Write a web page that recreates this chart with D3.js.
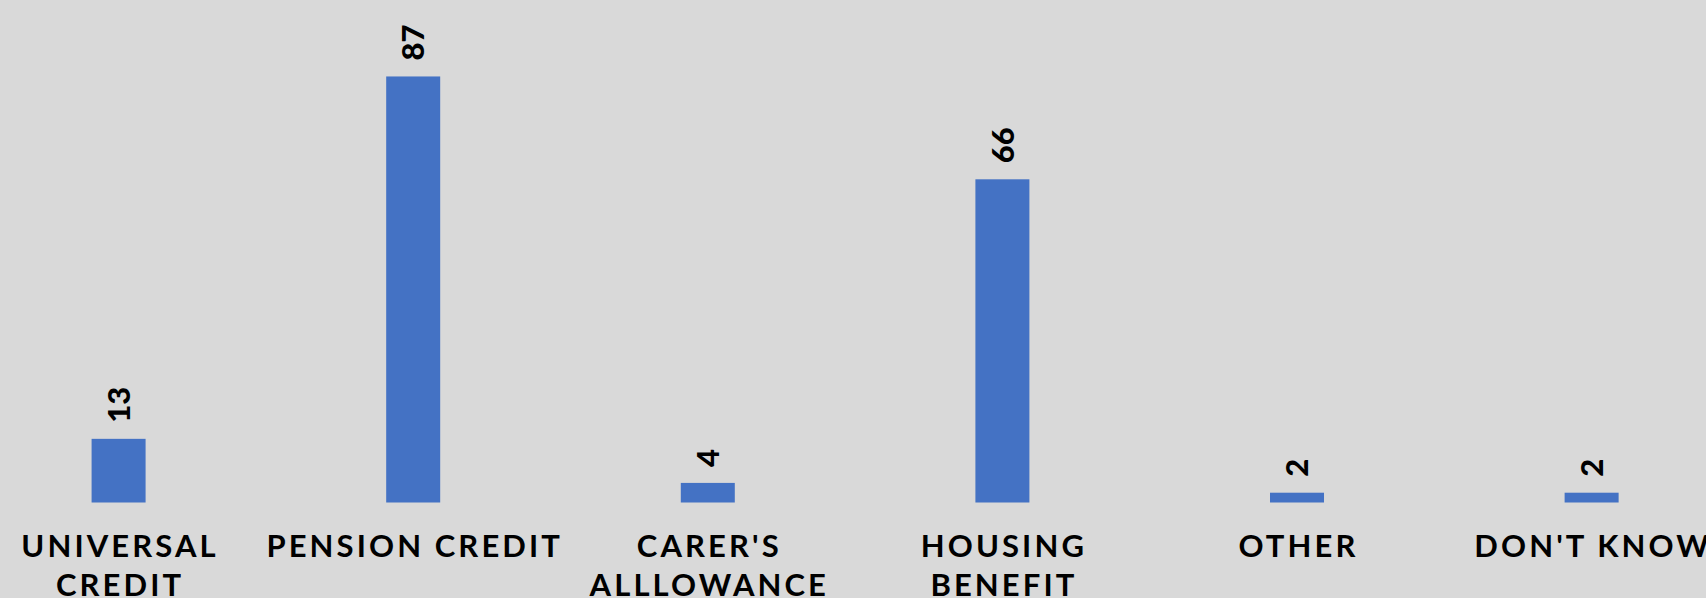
<html>

<head>
    <script src="https://d3js.org/d3.v7.min.js"></script>

    <style>
        body {
            margin: 0;
            background: #d9d9d9;
        }

        .bar {
            fill: #4472c4;
        }

        .value-label {
            font-family: "Century Gothic", Lato, sans-serif;
            font-weight: 900;
            font-size: 31px;
            fill: black;
        }

        .cat-label {
            font-family: "Century Gothic", Lato, sans-serif;
            font-weight: bold;
            font-size: 31px;
            letter-spacing: 3.1px;
            fill: black;
        }
    </style>
</head>

<body>
    <svg id="chart" height="598" width="1706"></svg>
</body>

<script>
    // benefits claimed
    const categories = ["Universal Credit", "Pension Credit", "Carer's Alllowance", "Housing Benefit", "Other", "Don't know"];
    const values = [13, 87, 4, 66, 2, 2];
    // how the axis labels wrap
    const labelLines = [
        ["UNIVERSAL", "CREDIT"],
        ["PENSION CREDIT"],
        ["CARER'S", "ALLLOWANCE"],
        ["HOUSING", "BENEFIT"],
        ["OTHER"],
        ["DON'T KNOW"]
    ];

    const svg = d3.select("#chart");
    const width = +svg.attr("width");
    const height = +svg.attr("height");

    svg.append("rect")
        .attr("width", width)
        .attr("height", height)
        .attr("fill", "#d9d9d9");

    // plot area runs a bit past the right edge, like the original slide crop
    const x = d3.scaleBand()
        .domain(categories)
        .range([-28.7, 1738.9])
        .paddingInner(0.8167)
        .paddingOuter(0.4083);

    const y = d3.scaleLinear()
        .domain([0, 100])
        .range([502.5, 12.8]);

    const chart = svg.append("g");

    chart.selectAll("rect.bar").data(values)
        .enter()
        .append("rect")
        .attr("class", "bar")
        .attr("x", (d, i) => x(categories[i]))
        .attr("y", d => y(d))
        .attr("width", x.bandwidth())
        .attr("height", d => y(0) - y(d));

    chart.selectAll("text.value-label").data(values)
        .enter()
        .append("text")
        .attr("class", "value-label")
        .attr("transform", (d, i) => "translate(" + (x(categories[i]) + x.bandwidth() / 2) + "," + (y(d) - 16) + ") rotate(-90)")
        .attr("dy", "0.36em")
        .attr("text-anchor", "start")
        .text(d => d);

    const labels = chart.selectAll("text.cat-label").data(labelLines)
        .enter()
        .append("text")
        .attr("class", "cat-label")
        .attr("text-anchor", "middle")
        .attr("y", 557);

    labels.selectAll("tspan").data((d, i) => d.map(line => ({ line, i })))
        .enter()
        .append("tspan")
        .attr("x", d => x(categories[d.i]) + x.bandwidth() / 2 + 1.5)
        .attr("dy", (d, j) => j === 0 ? 0 : 38.7)
        .text(d => d.line);
</script>

</html>
